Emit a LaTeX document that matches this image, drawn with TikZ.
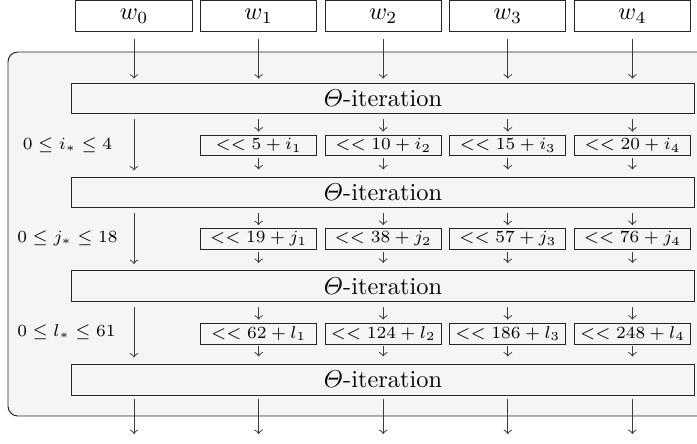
\documentclass[tikz,border=0pt]{standalone}
\usepackage{amsmath}
\usepackage{amssymb}
\usepackage{tikz}
\usetikzlibrary{arrows,positioning}
\usepackage{xcolor}
\definecolor{itergray}{RGB}{245,245,245}
\definecolor{linegray}{RGB}{60,60,60}
\tikzstyle{arrow} = [->, color=linegray, shorten <=2pt, shorten >=1.4pt]
\tikzstyle{wordbox} = [rectangle, draw=black!85, fill=white, minimum width=47.6pt, minimum height=13.1pt, inner sep=0pt]
\tikzstyle{iterbox} = [rectangle, draw=black!85, fill=itergray, minimum width=255.8pt, minimum height=12.7pt, inner sep=0pt]
\tikzstyle{rotbox} = [rectangle, draw=black!85, fill=itergray, minimum width=47.6pt, minimum height=8.6pt, inner sep=0pt, font=\scriptsize]
\tikzstyle{rangelabel} = [font=\scriptsize, inner sep=0pt]
\begin{document}
\begin{tikzpicture}[x=0.41pt, y=-0.41pt]
\useasboundingbox (0,0) rectangle (697,443);
% Frame round the rounds
\draw[rounded corners=4pt, fill=itergray, draw=black!85] (8,52) rectangle (712,416);

% Input words
\foreach \k in {0,...,4}
  \node[wordbox] (w\k) at (134+124.6*\k,16) {$w_{\k}$};

% Theta iterations
\foreach \r/\y in {1/98.5,2/192.5,3/286,4/379.5}
  \node[iterbox] (th\r) at (383,\y) {$\varTheta$-iteration};

% Rotations
\foreach \r/\y/\c/\v in {1/145.5/5/i,2/239/19/j,3/333.5/62/l}
  \foreach \k in {1,...,4} {
    \pgfmathtruncatemacro{\n}{\c*\k}
    \node[rotbox] (r\r\k) at (134+124.6*\k,\y) {$<< \n+\v_{\k}$};
  }

% Ranges
\node[rangelabel] (ri) at (67.5,145) {$0\le i_*\le 4$};
\node[rangelabel] (rj) at (67.5,238) {$0\le j_*\le 18$};
\node[rangelabel] (rl) at (66.5,332) {$0\le l_*\le 61$};

% Arrows
\foreach \k in {0,...,4}
  \draw[arrow, shorten <=2.5pt, shorten >=1.6pt] (w\k) -- (th1.north -| w\k);
\foreach \r in {1,2,3} {
  \pgfmathtruncatemacro{\s}{\r+1}
  \draw[arrow, shorten >=2.5pt] (th\r.south -| w0) -- (th\s.north -| w0);
  \foreach \k in {1,...,4} {
    \draw[arrow, shorten >=1.2pt] (th\r.south -| r\r\k) -- (r\r\k);
    \draw[arrow, shorten <=0.8pt, shorten >=2.9pt] (r\r\k) -- (th\s.north -| r\r\k);
  }
}
\foreach \k in {0,...,4} {
  \path (w\k) ++(0,418) coordinate (o\k);
  \draw[arrow, shorten <=1.6pt, shorten >=0pt] (th4.south -| w\k) -- (o\k);
}
\end{tikzpicture}
\end{document}
